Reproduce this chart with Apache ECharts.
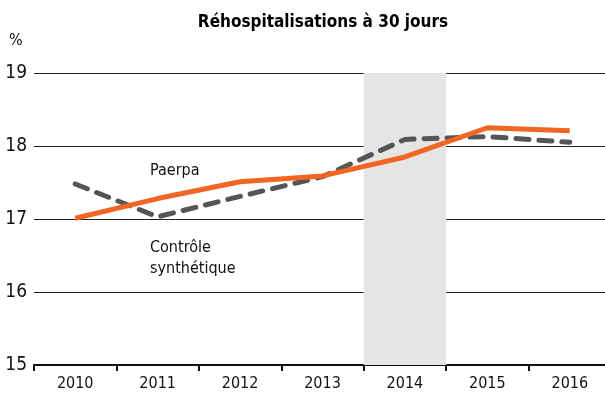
<!DOCTYPE html>
<html><head><meta charset="utf-8">
<script src="https://cdn.jsdelivr.net/npm/echarts@6/dist/echarts.min.js"></script>
<style>html,body{margin:0;padding:0;background:#fff}#c{width:605px;height:402px}</style>
</head><body><div id="c"></div>
<script>
const years = ['2010','2011','2012','2013','2014','2015','2016'];
const paerpa = [17.01, 17.28, 17.51, 17.59, 17.85, 18.25, 18.21];
const controle = [17.48, 17.03, 17.31, 17.58, 18.09, 18.13, 18.05];
const shaded = [null, null, null, null, 19, null, null];
const yTicks = [15, 16, 17, 18, 19];
const FONT = '"Liberation Sans Narrow", "DejaVu Sans Condensed", sans-serif';

const chart = echarts.init(document.getElementById('c'), null, {renderer: 'canvas'});
chart.setOption({
  animation: false,
  backgroundColor: '#fff',
  textStyle: {fontFamily: FONT},
  title: {
    text: 'Réhospitalisations à 30 jours',
    left: 318, top: 9, textAlign: 'center',
    textStyle: {fontFamily: FONT, fontWeight: 'bold', fontSize: 17, color: '#000'}
  },
  grid: {left: 34, width: 577, top: 73, bottom: 37, containLabel: false, outerBoundsMode: 'none'},
  xAxis: {
    type: 'category', data: years, boundaryGap: true,
    axisLine: {lineStyle: {color: '#111', width: 2}},
    axisTick: {show: true, length: 6, lineStyle: {color: '#111', width: 2}},
    axisLabel: {fontFamily: FONT, fontSize: 16, color: '#111', margin: 11},
    splitLine: {show: false}
  },
  yAxis: {
    type: 'value', min: yTicks[0], max: yTicks[yTicks.length - 1], interval: 1,
    axisLine: {show: false}, axisTick: {show: false},
    axisLabel: {fontFamily: FONT, fontSize: 19, color: '#111', margin: 7},
    splitLine: {lineStyle: {color: '#222', width: 1}}
  },
  graphic: [
    {type: 'text', left: 9, top: 33, style: {text: '%', font: '16px ' + FONT, fill: '#111'}},
    {type: 'text', left: 150, top: 163, style: {text: 'Paerpa', font: '16px ' + FONT, fill: '#111'}},
    {type: 'text', left: 150, top: 237, style: {text: 'Contrôle\nsynthétique', font: '16px ' + FONT, fill: '#111', lineHeight: 21}}
  ],
  series: [
    {type: 'bar', data: shaded, barWidth: '100%', itemStyle: {color: '#e7e5e3'}, z: 0, silent: true},
    {type: 'line', data: controle, symbol: 'none', z: 3,
     lineStyle: {color: '#555555', width: 5, type: [13, 10], cap: 'round'}},
    {type: 'line', data: paerpa, symbol: 'none', z: 4,
     lineStyle: {color: '#f26522', width: 5}}
  ]
});
</script></body></html>
